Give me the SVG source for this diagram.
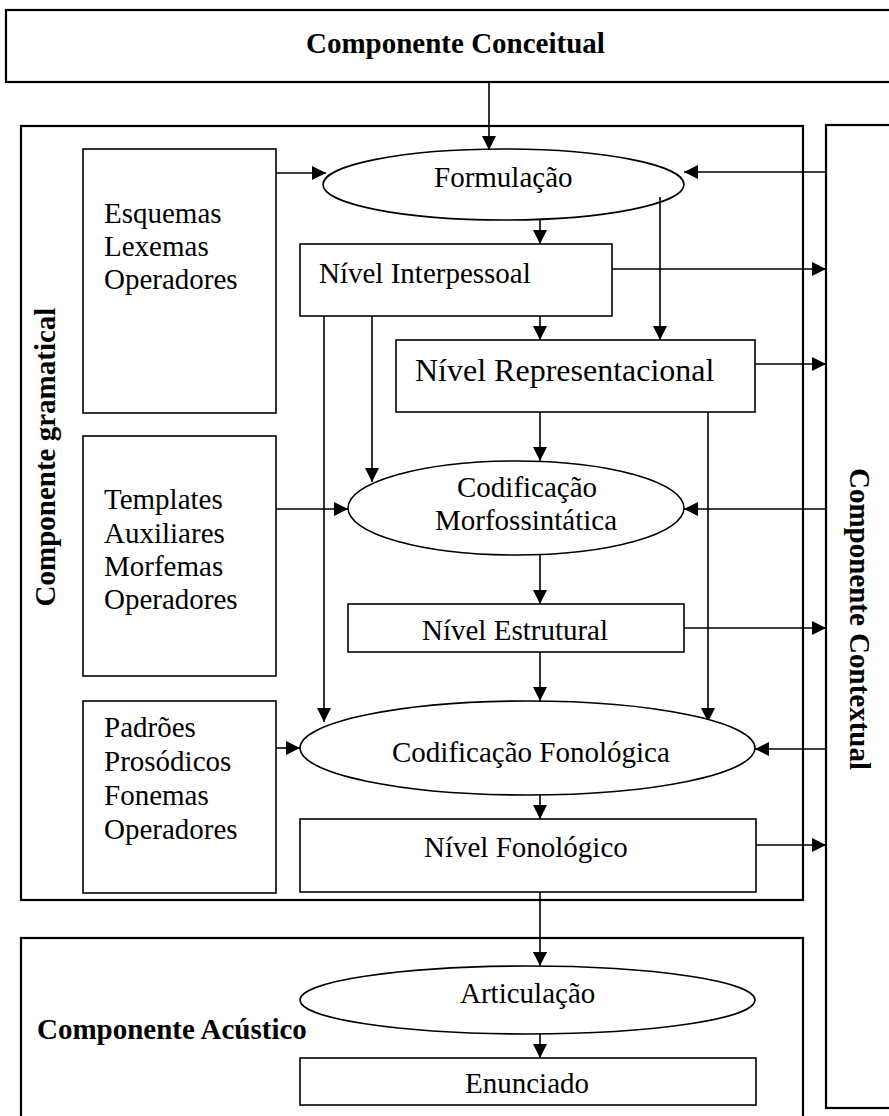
<svg xmlns="http://www.w3.org/2000/svg" width="889" height="1116" viewBox="0 0 889 1116">
  <style>
    .frame { fill: none; stroke: #000; stroke-width: 2.2; }
    .node { fill: #fff; stroke: #000; stroke-width: 1.6; }
    .conn { fill: none; stroke: #000; stroke-width: 1.6; marker-end: url(#arrow); }
    .txt { font-family: "Liberation Serif", "Times New Roman", serif; font-size: 29px; fill: #000; }
    .big { font-size: 32px; }
    .bold { font-weight: bold; }
  </style>
  <defs>
    <marker id="arrow" markerUnits="userSpaceOnUse" markerWidth="15" markerHeight="15" refX="14" refY="7" orient="auto">
      <path d="M0,0 L14,7 L0,14 z" fill="#000"/>
    </marker>
  </defs>
  <rect width="889" height="1116" fill="#fff"/>

  <!-- outer components -->
  <g id="componente-conceitual">
    <rect class="frame" x="6" y="10" width="900" height="72"/>
    <text class="txt bold" x="306" y="53">Componente Conceitual</text>
  </g>
  <g id="componente-gramatical">
    <rect class="frame" x="21" y="126" width="782" height="774"/>
    <text class="txt bold" text-anchor="middle" transform="translate(55,457) rotate(-90)">Componente gramatical</text>
  </g>
  <g id="componente-contextual">
    <rect class="frame" x="826" y="125" width="90" height="983"/>
    <text class="txt bold" text-anchor="middle" transform="translate(850,619) rotate(90)">Componente Contextual</text>
  </g>
  <g id="componente-acustico">
    <rect class="frame" x="21" y="938" width="782" height="190"/>
    <text class="txt bold" x="37" y="1039">Componente Acústico</text>
  </g>

  <!-- connectors -->
  <g id="connectors">
    <line class="conn" x1="489" y1="82" x2="489" y2="150"/>
    <line class="conn" x1="276" y1="173" x2="326" y2="173"/>
    <line class="conn" x1="826" y1="172" x2="684" y2="172"/>
    <line class="conn" x1="540" y1="220" x2="540" y2="244"/>
    <line class="conn" x1="660" y1="197" x2="660" y2="340"/>
    <line class="conn" x1="612" y1="269" x2="826" y2="269"/>
    <line class="conn" x1="540" y1="316" x2="540" y2="340"/>
    <line class="conn" x1="324" y1="316" x2="324" y2="722"/>
    <line class="conn" x1="372" y1="316" x2="372" y2="482"/>
    <line class="conn" x1="755" y1="364" x2="826" y2="364"/>
    <line class="conn" x1="540" y1="412" x2="540" y2="461"/>
    <line class="conn" x1="708" y1="412" x2="708" y2="722"/>
    <line class="conn" x1="276" y1="509" x2="348" y2="509"/>
    <line class="conn" x1="826" y1="509" x2="684" y2="509"/>
    <line class="conn" x1="540" y1="555" x2="540" y2="604"/>
    <line class="conn" x1="684" y1="628" x2="826" y2="628"/>
    <line class="conn" x1="540" y1="652" x2="540" y2="701"/>
    <line class="conn" x1="276" y1="748" x2="300" y2="748"/>
    <line class="conn" x1="826" y1="749" x2="755" y2="749"/>
    <line class="conn" x1="540" y1="795" x2="540" y2="819"/>
    <line class="conn" x1="756" y1="845" x2="826" y2="845"/>
    <line class="conn" x1="540" y1="892" x2="540" y2="966"/>
    <line class="conn" x1="540" y1="1034" x2="540" y2="1058"/>
  </g>

  <!-- lexical stores -->
  <g id="esquemas">
    <rect class="node" x="83" y="149" width="193" height="264"/>
    <text class="txt" x="104" y="223">Esquemas</text>
    <text class="txt" x="104" y="256">Lexemas</text>
    <text class="txt" x="104" y="289">Operadores</text>
  </g>
  <g id="templates">
    <rect class="node" x="83" y="436" width="193" height="240"/>
    <text class="txt" x="104" y="509">Templates</text>
    <text class="txt" x="104" y="543">Auxiliares</text>
    <text class="txt" x="104" y="576">Morfemas</text>
    <text class="txt" x="104" y="609">Operadores</text>
  </g>
  <g id="padroes">
    <rect class="node" x="83" y="701" width="193" height="192"/>
    <text class="txt" x="104" y="737">Padrões</text>
    <text class="txt" x="104" y="771">Prosódicos</text>
    <text class="txt" x="104" y="805">Fonemas</text>
    <text class="txt" x="104" y="839">Operadores</text>
  </g>

  <!-- processes and levels -->
  <g id="formulacao">
    <ellipse class="node" cx="503.5" cy="184.5" rx="180.5" ry="35.5" fill-opacity="0"/>
    <text class="txt" x="434" y="187">Formulação</text>
  </g>
  <g id="nivel-interpessoal">
    <rect class="node" x="300" y="244" width="312" height="72"/>
    <text class="txt" x="319" y="283">Nível Interpessoal</text>
  </g>
  <g id="nivel-representacional">
    <rect class="node" x="396" y="340" width="359" height="72"/>
    <text class="txt big" x="415" y="381">Nível Representacional</text>
  </g>
  <g id="codificacao-morfossintatica">
    <ellipse class="node" cx="516" cy="508" rx="168" ry="47"/>
    <text class="txt" x="457" y="497">Codificação</text>
    <text class="txt" x="435" y="530">Morfossintática</text>
  </g>
  <g id="nivel-estrutural">
    <rect class="node" x="348" y="604" width="336" height="48"/>
    <text class="txt" x="422" y="640">Nível Estrutural</text>
  </g>
  <g id="codificacao-fonologica">
    <ellipse class="node" cx="527.5" cy="748" rx="227.5" ry="47"/>
    <text class="txt" x="392" y="762">Codificação Fonológica</text>
  </g>
  <g id="nivel-fonologico">
    <rect class="node" x="300" y="819" width="456" height="73"/>
    <text class="txt" x="424" y="857">Nível Fonológico</text>
  </g>
  <g id="articulacao">
    <ellipse class="node" cx="527.5" cy="1000" rx="227.5" ry="34"/>
    <text class="txt" x="460" y="1003">Articulação</text>
  </g>
  <g id="enunciado">
    <rect class="node" x="300" y="1058" width="456" height="47"/>
    <text class="txt" x="465" y="1093">Enunciado</text>
  </g>
</svg>
